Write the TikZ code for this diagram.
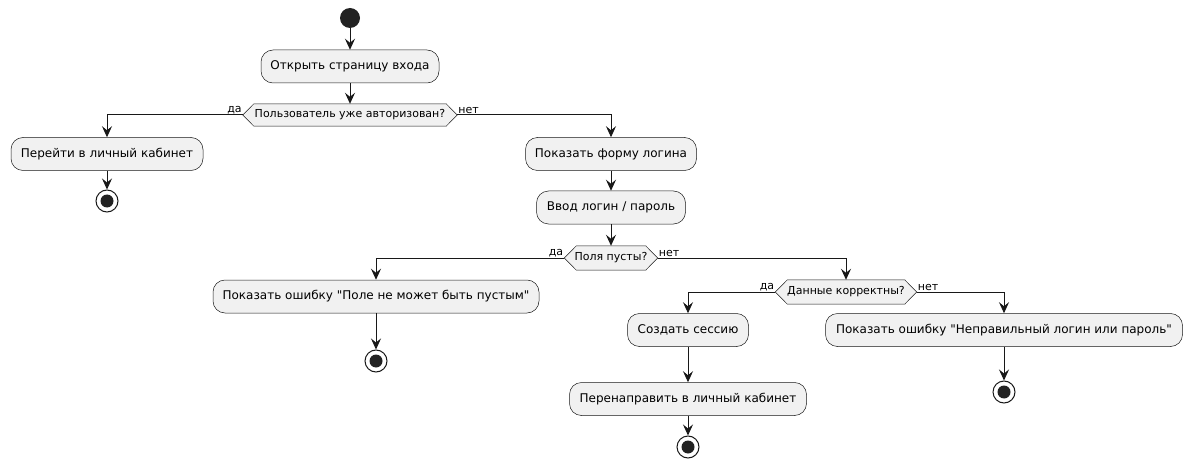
\documentclass[tikz,border=0pt]{standalone}
\usepackage{fontspec}
\setmainfont{DejaVu Sans}[Ligatures=TeXOff]
\usetikzlibrary{arrows.meta}
\pgfdeclarelayer{bg}
\pgfsetlayers{bg,main}
\definecolor{line}{HTML}{181818}
\definecolor{boxfill}{HTML}{F1F1F1}
\definecolor{startc}{HTML}{222222}
\begin{document}
\begin{tikzpicture}[x=1pt,y=-1pt,
  act/.style={draw=line, fill=boxfill, rounded corners=12pt, line width=0.5pt,
    minimum height=33pt, inner sep=0pt, font=\fontsize{12}{14}\selectfont},
  dec/.style={inner sep=0pt, minimum height=22pt, font=\fontsize{11}{13}\selectfont},
  lab/.style={font=\fontsize{11}{13}\selectfont, inner sep=1pt},
  startn/.style={circle, fill=startc, minimum size=20pt, inner sep=0pt},
  stopn/.style={circle, draw=line, line width=1pt, fill=white, minimum size=22pt, inner sep=0pt,
    path picture={\fill[startc] (path picture bounding box.center) circle (6.5pt);}},
  flow/.style={draw=line, line width=1pt, -{Stealth[length=11pt,width=10pt,inset=4pt]}},
  hex/.style={draw=line, fill=boxfill, line width=0.5pt}
]
\useasboundingbox (0,0) rectangle (1192,468);
\node[startn] (s) at (350,18) {};
\node[act, minimum width=178pt] (b1) at (350,66.5) {Открыть страницу входа};
\node[dec, minimum width=214pt] (d1) at (350,115) {Пользователь уже авторизован?};
\node[act, minimum width=192pt] (b2) at (107,154) {Перейти в личный кабинет};
\node[stopn] (e1) at (107,201) {};
\node[act, minimum width=171pt] (b3) at (611,154) {Показать форму логина};
\node[act, minimum width=149pt] (b4) at (611,207.5) {Ввод логин / пароль};
\node[dec, minimum width=93pt, minimum height=24pt] (d2) at (611,258) {Поля пусты?};
\node[act, minimum width=326pt] (b5) at (376,296.5) {Показать ошибку "Поле не может быть пустым"};
\node[stopn] (e2) at (376,361) {};
\node[dec, minimum width=141pt, minimum height=24pt] (d3) at (846,292) {Данные корректны?};
\node[act, minimum width=121pt] (b6) at (688,330) {Создать сессию};
\node[act, minimum width=237pt] (b7) at (688,399) {Перенаправить в личный кабинет};
\node[stopn] (e3) at (688,447) {};
\node[act, minimum width=357pt] (b8) at (1004,330) {Показать ошибку "Неправильный логин или пароль"};
\node[stopn] (e4) at (1004,392) {};
\begin{pgfonlayer}{bg}
\foreach \d/\c in {d1/11,d2/12,d3/12}{
  \draw[hex] (\d.west) -- ([xshift=\c pt]\d.north west) -- ([xshift=-\c pt]\d.north east)
    -- (\d.east) -- ([xshift=-\c pt]\d.south east) -- ([xshift=\c pt]\d.south west) -- cycle;
}
\end{pgfonlayer}
\node[lab, anchor=south east] (l1) at (d1.west) {да};
\node[lab, anchor=south west] (l2) at (d1.east) {нет};
\node[lab, anchor=south east] (l3) at (d2.west) {да};
\node[lab, anchor=south west] (l4) at (d2.east) {нет};
\node[lab, anchor=south east] (l5) at (d3.west) {да};
\node[lab, anchor=south west] (l6) at (d3.east) {нет};
\draw[flow] (s) -- (b1);
\draw[flow] (b1) -- (d1);
\draw[flow] (d1.west) -| (b2.north);
\draw[flow] (b2) -- (e1);
\draw[flow] (d1.east) -| (b3.north);
\draw[flow] (b3) -- (b4);
\draw[flow] (b4) -- (d2);
\draw[flow] (d2.west) -| (b5.north);
\draw[flow] (b5) -- (e2);
\draw[flow] (d2.east) -| (d3.north);
\draw[flow] (d3.west) -| (b6.north);
\draw[flow] (b6) -- (b7);
\draw[flow] (b7) -- (e3);
\draw[flow] (d3.east) -| (b8.north);
\draw[flow] (b8) -- (e4);
\end{tikzpicture}
\end{document}
